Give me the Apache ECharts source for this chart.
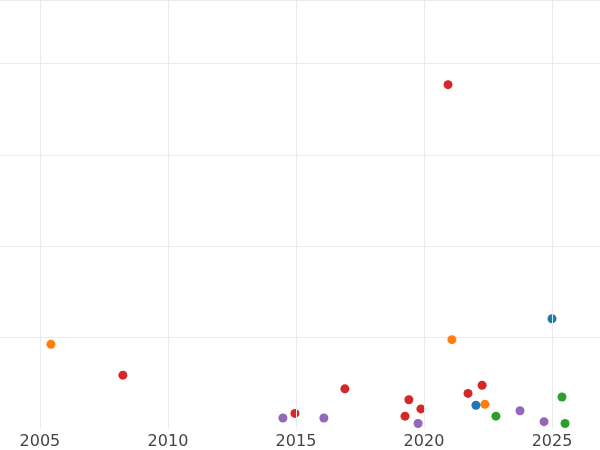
<!DOCTYPE html>
<html><head><meta charset="utf-8">
<script src="https://cdn.jsdelivr.net/npm/echarts@6/dist/echarts.min.js"></script>
<style>html,body{margin:0;padding:0}#c{width:600px;height:450px}</style>
</head><body><div id="c"></div>
<script>
// points per colour group: [year, value]
var redPts=[[2008.24,0.58],[2014.96,0.16],[2016.91,0.43],[2019.26,0.13],[2019.41,0.31],[2019.88,0.21],[2020.94,3.77],[2021.72,0.38],[2022.27,0.47]];
var orangePts=[[2005.43,0.92],[2021.09,0.97],[2022.38,0.26]];
var bluePts=[[2022.03,0.25],[2025.0,1.20]];
var greenPts=[[2022.81,0.13],[2025.39,0.34],[2025.51,0.05]];
var purplePts=[[2014.49,0.11],[2016.09,0.11],[2019.77,0.05],[2023.75,0.19],[2024.69,0.07]];
var yearTicks=[2005,2010,2015,2020,2025];

var chart=echarts.init(document.getElementById("c"));
function s(data,color){
  return {type:'scatter',data:data,symbolSize:9,itemStyle:{color:color,opacity:1},z:3};
}
var series=[s(purplePts,'#9467bd'),s(redPts,'#d62728'),s(orangePts,'#ff7f0e'),s(bluePts,'#1f77b4'),s(greenPts,'#2ca02c')];
series.push({type:'scatter',data:[],markLine:{silent:true,symbol:'none',label:{show:false},
  lineStyle:{color:'#ebebeb',type:'solid',width:1},
  data:yearTicks.map(function(v){return {xAxis:v};})}});
chart.setOption({
  animation:false,
  grid:{left:0,right:0,top:0,bottom:22},
  xAxis:{type:'value',min:2003.44,max:2026.875,
    axisLine:{show:false},axisTick:{show:false},splitLine:{show:false},
    axisLabel:{customValues:yearTicks,formatter:function(v){return String(v);},color:'#444',fontSize:16,margin:6,fontFamily:'DejaVu Sans'}},
  yAxis:{type:'value',min:0,max:4.7,interval:1,
    axisLine:{show:false},axisTick:{show:false},axisLabel:{show:false},
    splitLine:{showMinLine:false,lineStyle:{color:'#ebebeb'}}},
  series:series
});
</script></body></html>
